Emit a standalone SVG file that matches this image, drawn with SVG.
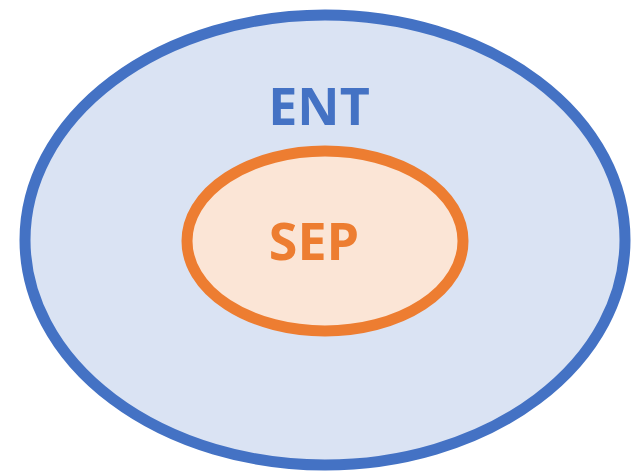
<svg xmlns="http://www.w3.org/2000/svg" width="640" height="471" viewBox="0 0 640 471">
  <style>
    .label { font-family: "Open Sans", "Liberation Sans", sans-serif; font-weight: bold; font-size: 52px; text-anchor: middle; }
  </style>
  <rect width="640" height="471" fill="#ffffff"/>
  <g id="ent">
    <ellipse cx="325" cy="240" rx="300" ry="225" fill="#DAE3F3" stroke="#4472C4" stroke-width="11"/>
    <text class="label" x="319" y="125" fill="#4472C4">ENT</text>
  </g>
  <g id="sep">
    <ellipse cx="325" cy="241" rx="138" ry="90" fill="#FBE5D6" stroke="#ED7D31" stroke-width="11"/>
    <text class="label" x="314" y="260" fill="#ED7D31">SEP</text>
  </g>
  <g id="connectors"/>
</svg>
